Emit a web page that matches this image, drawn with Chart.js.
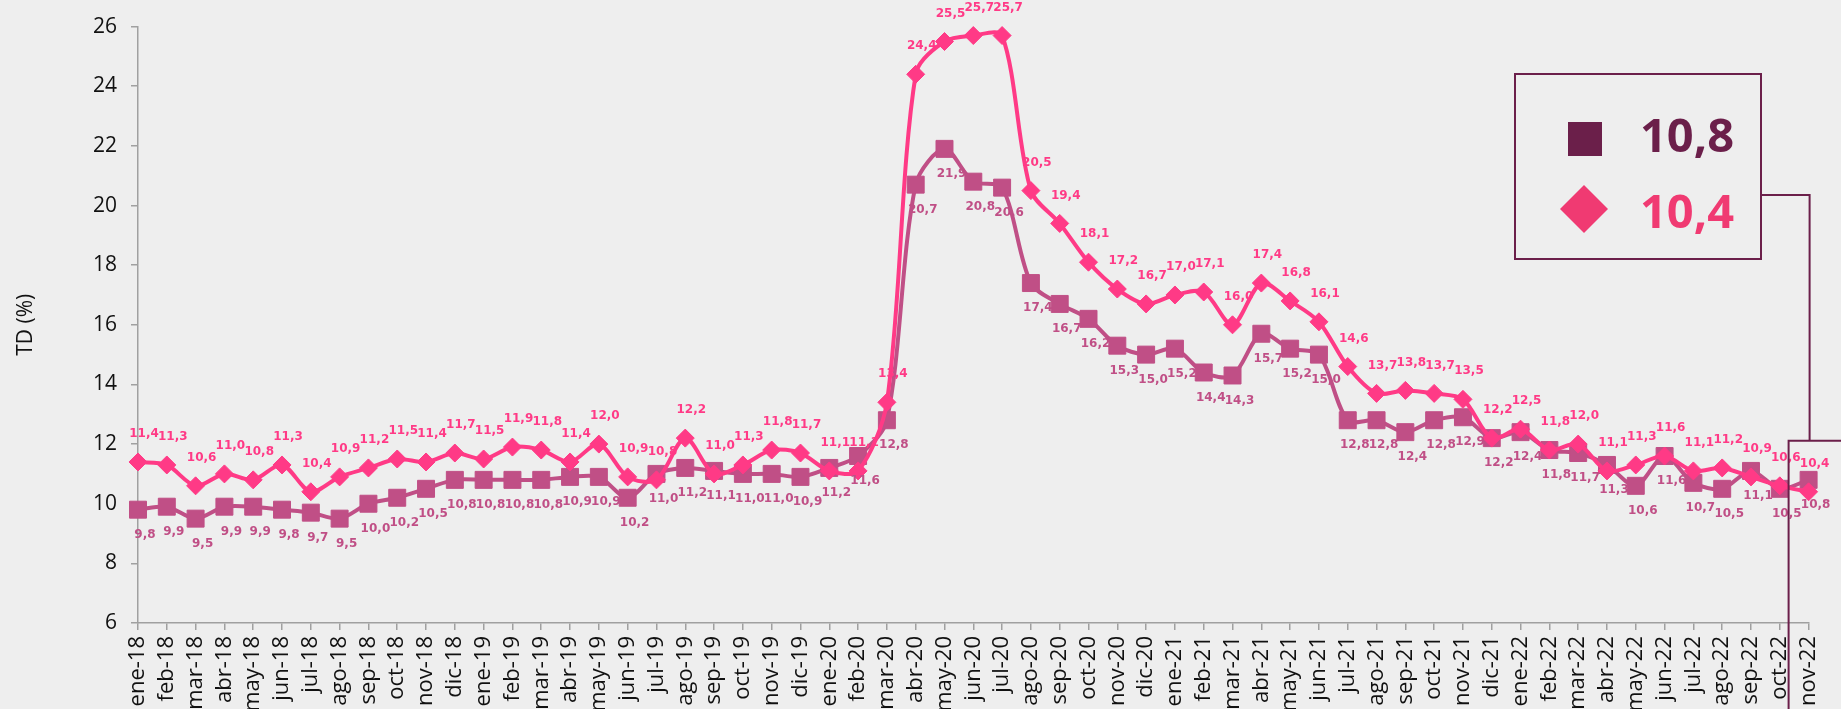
<!DOCTYPE html>
<html>
<head>
<meta charset="utf-8">
<script src="https://cdn.jsdelivr.net/npm/chart.js@4.4.1/dist/chart.umd.min.js"></script>
<style>
html, body { margin: 0; padding: 0; background: #eeeeee; overflow: hidden; }
#wrap { width: 1841px; height: 709px; position: relative; }
</style>
</head>
<body>
<div id="wrap"><canvas id="myChart"></canvas></div>
<script>
var meses = [
    'ene-18','feb-18','mar-18','abr-18','may-18','jun-18','jul-18','ago-18','sep-18','oct-18','nov-18','dic-18',
    'ene-19','feb-19','mar-19','abr-19','may-19','jun-19','jul-19','ago-19','sep-19','oct-19','nov-19','dic-19',
    'ene-20','feb-20','mar-20','abr-20','may-20','jun-20','jul-20','ago-20','sep-20','oct-20','nov-20','dic-20',
    'ene-21','feb-21','mar-21','abr-21','may-21','jun-21','jul-21','ago-21','sep-21','oct-21','nov-21','dic-21',
    'ene-22','feb-22','mar-22','abr-22','may-22','jun-22','jul-22','ago-22','sep-22','oct-22','nov-22'
];

// serie con marcador cuadrado
var tdCuadro = [
    9.8, 9.9, 9.5, 9.9, 9.9, 9.8, 9.7, 9.5, 10.0, 10.2, 10.5, 10.8,
    10.8, 10.8, 10.8, 10.9, 10.9, 10.2, 11.0, 11.2, 11.1, 11.0, 11.0, 10.9,
    11.2, 11.6, 12.8, 20.7, 21.9, 20.8, 20.6, 17.4, 16.7, 16.2, 15.3, 15.0,
    15.2, 14.4, 14.3, 15.7, 15.2, 15.0, 12.8, 12.8, 12.4, 12.8, 12.9, 12.2,
    12.4, 11.8, 11.7, 11.3, 10.6, 11.6, 10.7, 10.5, 11.1, 10.5, 10.8
];

// serie con marcador rombo
var tdRombo = [
    11.4, 11.3, 10.6, 11.0, 10.8, 11.3, 10.4, 10.9, 11.2, 11.5, 11.4, 11.7,
    11.5, 11.9, 11.8, 11.4, 12.0, 10.9, 10.8, 12.2, 11.0, 11.3, 11.8, 11.7,
    11.1, 11.1, 13.4, 24.4, 25.5, 25.7, 25.7, 20.5, 19.4, 18.1, 17.2, 16.7,
    17.0, 17.1, 16.0, 17.4, 16.8, 16.1, 14.6, 13.7, 13.8, 13.7, 13.5, 12.2,
    12.5, 11.8, 12.0, 11.1, 11.3, 11.6, 11.1, 11.2, 10.9, 10.6, 10.4
];

var yMin = 6, yMax = 26, yPaso = 2;

var colorCuadro = '#C04F86';
var colorRombo = '#FF3A86';
var colorCuadroLeyenda = '#6B1F4A';
var colorRomboLeyenda = '#F03A72';

function fmt(v) { return v.toFixed(1).replace('.', ','); }

// etiquetas de datos (encima para el rombo, debajo para el cuadro)
var etiquetas = {
    id: 'etiquetas',
    afterDatasetsDraw: function(chart) {
        var ctx = chart.ctx;
        var desp = [{ dx: 6, dy: -28, color: colorRombo }, { dx: 7, dy: 25, color: colorCuadro }];
        ctx.save();
        ctx.font = 'bold 12px "DejaVu Sans"';
        ctx.textAlign = 'center';
        ctx.textBaseline = 'middle';
        chart.data.datasets.forEach(function(ds, i) {
            var meta = chart.getDatasetMeta(i);
            ctx.fillStyle = desp[i].color;
            meta.data.forEach(function(pt, j) {
                ctx.fillText(fmt(ds.data[j]), pt.x + desp[i].dx, pt.y + desp[i].dy);
            });
        });
        ctx.restore();
    }
};

// recuadro con el último dato
var recuadro = {
    id: 'recuadro',
    afterDraw: function(chart) {
        var ctx = chart.ctx;
        var ult = tdCuadro.length - 1;
        var pC = chart.getDatasetMeta(1).data[ult];
        var pR = chart.getDatasetMeta(0).data[ult];
        ctx.save();
        ctx.strokeStyle = colorCuadroLeyenda;
        ctx.lineWidth = 2;
        ctx.strokeRect(1515, 74, 246, 185);

        // caja sobre el último punto y conector
        var top = Math.min(pC.y, pR.y) - 39;
        ctx.beginPath();
        ctx.moveTo(pC.x - 20, chart.height + 5);
        ctx.lineTo(pC.x - 20, top);
        ctx.lineTo(chart.width + 5, top);
        ctx.stroke();
        ctx.beginPath();
        ctx.moveTo(1761, 195);
        ctx.lineTo(pC.x + 1, 195);
        ctx.lineTo(pC.x + 1, top);
        ctx.stroke();

        ctx.fillStyle = colorCuadroLeyenda;
        ctx.fillRect(1568, 122, 34, 34);
        ctx.fillStyle = colorRomboLeyenda;
        ctx.beginPath();
        ctx.moveTo(1584, 185);
        ctx.lineTo(1608, 209);
        ctx.lineTo(1584, 233);
        ctx.lineTo(1560, 209);
        ctx.closePath();
        ctx.fill();

        ctx.font = 'bold 47px "Open Sans"';
        ctx.textAlign = 'left';
        ctx.textBaseline = 'alphabetic';
        ctx.fillStyle = colorCuadroLeyenda;
        ctx.fillText(fmt(tdCuadro[ult]), 1640, 152);
        ctx.fillStyle = colorRomboLeyenda;
        ctx.fillText(fmt(tdRombo[ult]), 1640, 228);
        ctx.restore();
    }
};

var ctx = document.getElementById('myChart').getContext('2d');
var myChart = new Chart(ctx, {
    type: 'line',
    data: {
        labels: meses,
        datasets: [{
            label: 'rombo',
            data: tdRombo,
            borderColor: colorRombo,
            backgroundColor: colorRombo,
            borderWidth: 4,
            pointStyle: 'rectRot',
            pointRadius: 9,
            pointBorderWidth: 1,
            tension: 0.3,
            clip: false
        },
        {
            label: 'cuadro',
            data: tdCuadro,
            borderColor: colorCuadro,
            backgroundColor: colorCuadro,
            borderWidth: 4,
            pointStyle: 'rect',
            pointRadius: 12,
            pointBorderWidth: 1,
            tension: 0.3,
            clip: false
        }]
    },
    options: {
        responsive: true,
        maintainAspectRatio: false,
        animation: false,
        layout: {
            padding: { top: 21, right: 20, left: 0, bottom: 0 }
        },
        plugins: {
            legend: { display: false },
            tooltip: { enabled: false }
        },
        scales: {
            x: {
                offset: false,
                grid: { display: true, drawOnChartArea: false, drawTicks: true, tickLength: 7, color: '#a0a0a0', lineWidth: 1.5 },
                border: { display: true, color: '#a0a0a0', width: 1.5 },
                ticks: {
                    autoSkip: false,
                    minRotation: 90,
                    maxRotation: 90,
                    padding: 6,
                    color: '#111',
                    font: { family: '"Open Sans"', size: 22 }
                },
                afterFit: function(scale) { scale.height = 86; }
            },
            y: {
                min: yMin,
                max: yMax,
                grid: { display: true, drawOnChartArea: false, drawTicks: true, tickLength: 7, color: '#a0a0a0', lineWidth: 1.5 },
                border: { display: true, color: '#a0a0a0', width: 1.5 },
                ticks: {
                    stepSize: yPaso,
                    padding: 14,
                    color: '#111',
                    font: { family: '"Open Sans"', size: 21 }
                },
                title: {
                    display: true,
                    text: 'TD (%)',
                    color: '#111',
                    padding: { top: 13, bottom: 0 },
                    font: { family: '"Open Sans"', size: 21 }
                },
                afterFit: function(scale) { scale.width = 138; }
            }
        }
    },
    plugins: [etiquetas, recuadro]
});
</script>
</body>
</html>
